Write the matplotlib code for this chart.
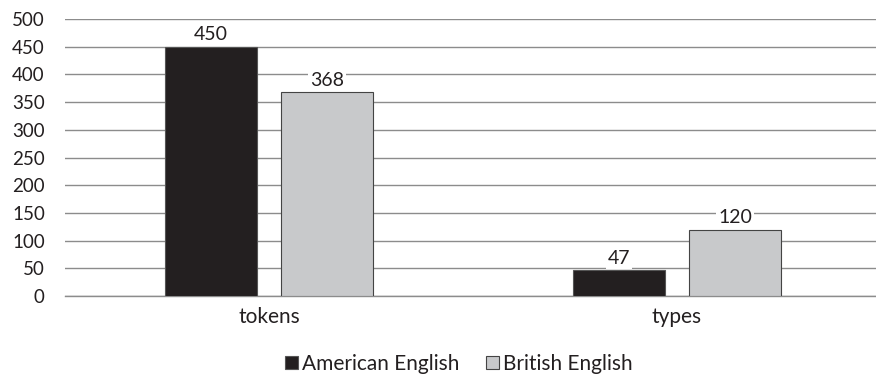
import numpy as np
import matplotlib
matplotlib.use('Agg')
import matplotlib.pyplot as plt

categories = ['tokens', 'types']
american = [450, 47]
british = [368, 120]
series_names = ['American English', 'British English']

plt.rcParams['font.family'] = ['Lato', 'DejaVu Sans']

fig = plt.figure(figsize=(8.76, 3.74), dpi=100)
ax = fig.add_axes([65 / 876, 1 - 296 / 374, 811 / 876, 277 / 374])

x = np.arange(len(categories))
w = 0.2255
off = 0.142
b1 = ax.bar(x - off, american, w, color='#231f20', edgecolor='#555555', linewidth=0.8,
            label=series_names[0], zorder=3)
b2 = ax.bar(x + off, british, w, color='#c8c9cb', edgecolor='#444444', linewidth=0.8,
            label=series_names[1], zorder=3)

for bars in (b1, b2):
    for rect in bars:
        h = rect.get_height()
        ax.text(rect.get_x() + rect.get_width() / 2, h + 6, f'{h:.0f}',
                ha='center', va='bottom', fontsize=14, color='#231f20', zorder=4,
                bbox=dict(facecolor='white', edgecolor='none', pad=1.5))

ax.set_xlim(-0.5, 1.4877)
ax.set_ylim(0, 500)
ax.set_yticks(range(0, 501, 50))
ax.yaxis.grid(True, color='#8c8c8c', linewidth=1.0, zorder=0)
ax.set_axisbelow(True)
for s in ['top', 'right', 'left']:
    ax.spines[s].set_visible(False)
ax.spines['bottom'].set_color('#8c8c8c')
ax.spines['bottom'].set_linewidth(1.0)
ax.tick_params(axis='both', length=0, colors='#231f20')
ax.tick_params(axis='y', pad=14.5, labelsize=13.5)
ax.tick_params(axis='x', pad=8, labelsize=15)
ax.set_xticks(x)
ax.set_xticklabels(categories)

leg = fig.legend(handles=[b1, b2], loc='center', bbox_to_anchor=(459 / 876, 1 - 364 / 374), ncol=2,
                 frameon=False, fontsize=15, handlelength=0.6, handleheight=0.6,
                 handletextpad=0.2, columnspacing=1.3, labelcolor='#231f20')

fig.savefig('out.png', dpi=100)
